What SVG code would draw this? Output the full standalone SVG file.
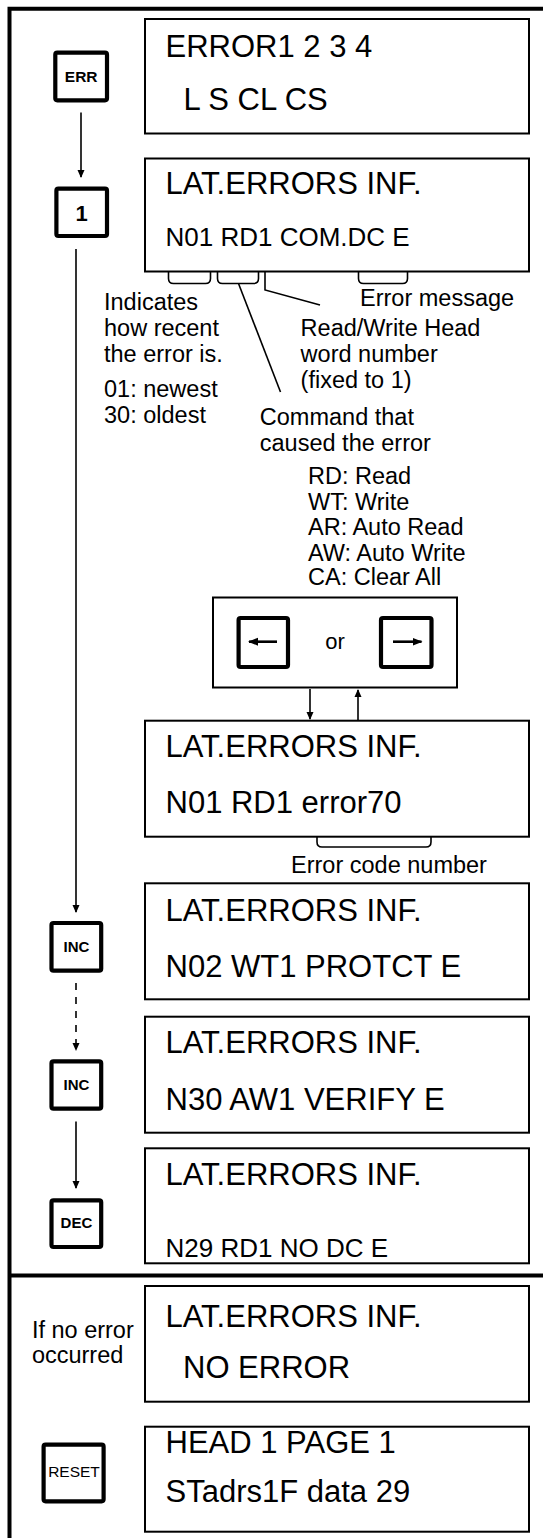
<svg xmlns="http://www.w3.org/2000/svg" width="543" height="1538" viewBox="0 0 543 1538">
<style>
text{font-family:"Liberation Sans",Arial,sans-serif;fill:#000}
.lcd{fill:#fff;stroke:#000;stroke-width:2}
.key{fill:#fff;stroke:#000;stroke-width:4.2}
.frame{stroke:#000;stroke-width:4;fill:none}
.big{font-size:31px}
.mid{font-size:26px}
.ann{font-size:23.5px}
.kt{font-size:15px;font-weight:bold;text-anchor:middle}
.ln{stroke:#000;stroke-width:1.6;fill:none}
.arr{stroke:#000;stroke-width:1.6;fill:none;marker-end:url(#ah)}
.arr2{stroke:#000;stroke-width:2.6;fill:none;marker-end:url(#ah2)}
</style>
<defs>
<marker id="ah" markerUnits="userSpaceOnUse" markerWidth="8" markerHeight="11" refX="7" refY="4" orient="auto">
<path d="M0,0.5 L8,4 L0,7.5 z" fill="#000"/>
</marker>
<marker id="ah2" markerUnits="userSpaceOnUse" markerWidth="10" markerHeight="10" refX="9" refY="4.5" orient="auto">
<path d="M0,0.5 L10,4.5 L0,8.5 z" fill="#000"/>
</marker>
</defs>
<rect width="543" height="1538" fill="#fff"/>
<g id="frame">
<path class="frame" d="M9.5,1538 V8.7 H543"/>
<path class="frame" d="M9.5,1275.5 H543"/>
</g>
<g id="connectors">
<line class="arr" x1="81" y1="112.5" x2="81" y2="177"/>
<line class="arr" x1="76" y1="249" x2="76" y2="912"/>
<line class="arr" x1="76" y1="983" x2="76" y2="1050" stroke-dasharray="7 7"/>
<line class="arr" x1="76" y1="1121.5" x2="76" y2="1188"/>
<line class="arr" x1="310" y1="689" x2="310" y2="719"/>
<line class="arr" x1="358" y1="721" x2="358" y2="690"/>
<path class="ln" d="M168.5,272 v6.5 q0,5 5,5 h32 q5,0 5,-5 v-6.5"/>
<path class="ln" d="M217.5,272 v6.5 q0,5 5,5 h31 q5,0 5,-5 v-6.5"/>
<path class="ln" d="M358.5,272 v6.5 q0,5 5,5 h39 q5,0 5,-5 v-6.5"/>
<path class="ln" d="M265,272 V290 L320,305"/>
<path class="ln" d="M238.5,283.5 L280.5,392"/>
<path class="ln" d="M317,837 v5 q0,5 5,5 h104 q5,0 5,-5 v-5"/>
</g>
<g id="key-err"><rect class="key" x="55.3" y="52.7" width="51.7" height="47.6" rx="2"/><text class="kt" x="81.2" y="82" style="font-size:15.5px">ERR</text></g>
<g id="key-1"><rect class="key" x="56.4" y="188.7" width="50.6" height="47.3" rx="2"/><text class="kt" x="81.7" y="221" style="font-size:22px">1</text></g>
<g id="lcd-error"><rect class="lcd" x="145" y="19" width="384" height="114.5"/><text class="big" x="165.5" y="57">ERROR1 2 3 4</text><text class="big" x="183.6" y="110">L S CL CS</text></g>
<g id="lcd-n01"><rect class="lcd" x="145" y="158.5" width="384" height="113"/><text class="big" x="165.5" y="193.5">LAT.ERRORS INF.</text><text class="mid" x="165.5" y="245.5">N01 RD1 COM.DC E</text></g>
<g id="notes">
<text class="ann" x="360" y="306">Error message</text>
<text class="ann" x="104" y="310">Indicates</text>
<text class="ann" x="104" y="335.7">how recent</text>
<text class="ann" x="104" y="361.7">the error is.</text>
<text class="ann" x="300.6" y="335.7">Read/Write Head</text>
<text class="ann" x="300.6" y="361.7">word number</text>
<text class="ann" x="300.6" y="388">(fixed to 1)</text>
<text class="ann" x="104" y="397.3">01: newest</text>
<text class="ann" x="104" y="423.3">30: oldest</text>
<text class="ann" x="259.8" y="425">Command that</text>
<text class="ann" x="259.8" y="450.7">caused the error</text>
<text class="ann" x="308" y="484">RD: Read</text>
<text class="ann" x="308" y="509.5">WT: Write</text>
<text class="ann" x="308" y="535">AR: Auto Read</text>
<text class="ann" x="308" y="560.5">AW: Auto Write</text>
<text class="ann" x="308" y="584.5">CA: Clear All</text>
<text class="ann" x="291" y="873">Error code number</text>
<text class="ann" x="31.9" y="1338.3">If no error</text>
<text class="ann" x="31.9" y="1362.7">occurred</text>
</g>
<g id="arrow-keys">
<rect class="lcd" x="213" y="597.5" width="244" height="90"/>
<rect class="key" x="238.6" y="618" width="49.4" height="49" rx="2"/>
<line class="arr2" x1="277" y1="641.7" x2="249" y2="641.7"/>
<text x="335" y="649.3" style="font-size:22px;text-anchor:middle">or</text>
<rect class="key" x="381" y="618" width="50.5" height="49" rx="2"/>
<line class="arr2" x1="393" y1="641.7" x2="421.5" y2="641.7"/>
</g>
<g id="lcd-error70"><rect class="lcd" x="145" y="720.7" width="384" height="116"/><text class="big" x="165.5" y="756.7">LAT.ERRORS INF.</text><text class="big" x="165.5" y="813.3">N01 RD1 error70</text></g>
<g id="key-inc1"><rect class="key" x="51.5" y="923" width="49.7" height="47.7" rx="2"/><text class="kt" x="76.4" y="952.3">INC</text></g>
<g id="lcd-n02"><rect class="lcd" x="145" y="883.3" width="384" height="116"/><text class="big" x="165.5" y="920.7">LAT.ERRORS INF.</text><text class="big" x="165.5" y="977.3">N02 WT1 PROTCT E</text></g>
<g id="key-inc2"><rect class="key" x="51.5" y="1061.3" width="49.7" height="47.4" rx="2"/><text class="kt" x="76.4" y="1090">INC</text></g>
<g id="lcd-n30"><rect class="lcd" x="145" y="1016.7" width="384" height="116"/><text class="big" x="165.5" y="1053.3">LAT.ERRORS INF.</text><text class="big" x="165.5" y="1110">N30 AW1 VERIFY E</text></g>
<g id="key-dec"><rect class="key" x="51.5" y="1200.3" width="49.7" height="46.7" rx="2"/><text class="kt" x="76.4" y="1228">DEC</text></g>
<g id="lcd-n29"><rect class="lcd" x="145" y="1148.3" width="384" height="115"/><text class="big" x="165.5" y="1185">LAT.ERRORS INF.</text><text class="mid" x="165.5" y="1257.3">N29 RD1 NO DC E</text></g>
<g id="lcd-noerror"><rect class="lcd" x="145" y="1286" width="384" height="115.7"/><text class="big" x="165.5" y="1326.7">LAT.ERRORS INF.</text><text class="big" x="183" y="1378.3">NO ERROR</text></g>
<g id="key-reset"><rect class="key" x="43.6" y="1444.7" width="60" height="56.6" rx="2"/><text x="74" y="1477.3" style="font-size:15.5px;text-anchor:middle">RESET</text></g>
<g id="lcd-head"><rect class="lcd" x="145" y="1426.7" width="384" height="105"/><text class="big" x="165.5" y="1453.3">HEAD 1 PAGE 1</text><text class="big" x="165.5" y="1501.7">STadrs1F data 29</text></g>
</svg>
